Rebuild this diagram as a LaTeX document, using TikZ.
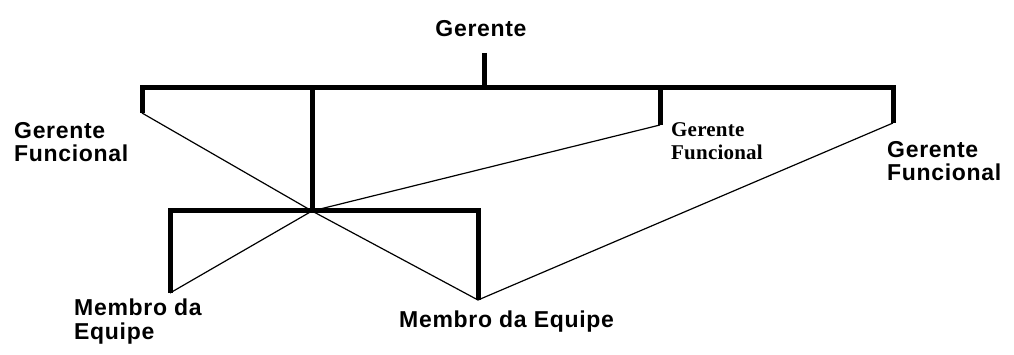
\documentclass[tikz,border=0pt]{standalone}
\usepackage{fontspec}
\newfontfamily\lblfont[LetterSpace=3]{Liberation Sans}
\newfontfamily\smlfont[LetterSpace=1]{Liberation Serif}
\begin{document}
\begin{tikzpicture}[x=1pt,y=-1pt,
  bar/.style={line width=5pt,line join=miter},
  link/.style={line width=1.2pt},
  lbl/.style={inner sep=0pt,align=left,font=\lblfont\bfseries\fontsize{23}{23.5}\selectfont},
  sml/.style={inner sep=0pt,align=left,font=\smlfont\bfseries\fontsize{21}{23}\selectfont}]
  \useasboundingbox (0,0) rectangle (1014,355);
  \node[lbl,anchor=north] (boss) at (481,20) {Gerente};
  \node[lbl,anchor=north west] (fl) at (14,122) {Gerente\\Funcional};
  \node[sml,anchor=north west] (fm) at (671,122) {Gerente\\Funcional};
  \node[lbl,anchor=north west] (fr) at (887,141) {Gerente\\Funcional};
  \node[lbl,anchor=north west] (el) at (74,299) {Membro da\\Equipe};
  \node[lbl,anchor=north west] (er) at (399,311) {Membro da Equipe};
  \coordinate (g) at (484,53);
  \coordinate (gb) at (484,88);
  \coordinate (a) at (142,88);
  \coordinate (a0) at (142,113);
  \coordinate (b) at (660,88);
  \coordinate (b0) at (660,125);
  \coordinate (c) at (893,88);
  \coordinate (c0) at (893,123);
  \coordinate (h) at (312,88);
  \coordinate (hub) at (312,211);
  \coordinate (m) at (170,211);
  \coordinate (m0) at (170,293);
  \coordinate (n) at (478,211);
  \coordinate (n0) at (478,300);
  \draw[bar] (g) -- (gb);
  \draw[bar] (a0) -- (a) -- (c) -- (c0);
  \draw[bar] (h) -- (hub);
  \draw[bar] (b) -- (b0);
  \draw[bar] (m0) -- (m) -- (n) -- (n0);
  \draw[link] (a0) -- (hub) -- (n0) -- (c0);
  \draw[link] (b0) -- (hub) -- (m0);
\end{tikzpicture}
\end{document}
